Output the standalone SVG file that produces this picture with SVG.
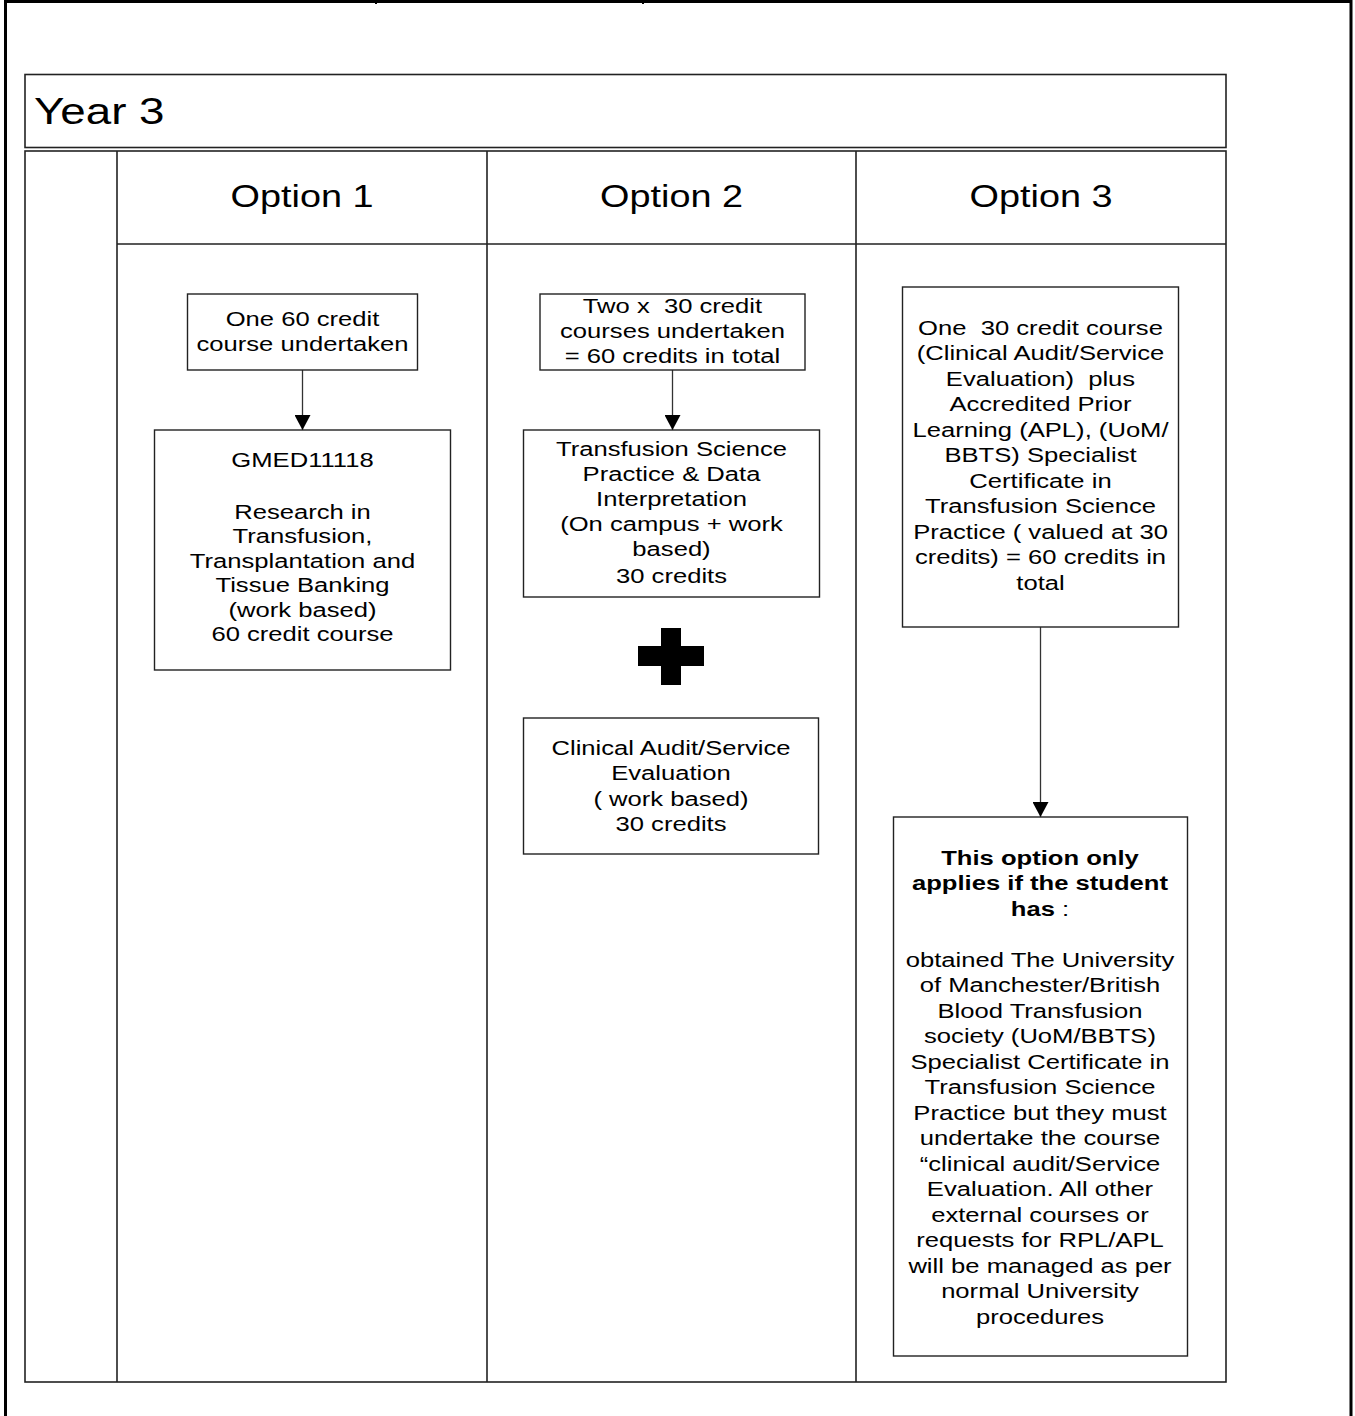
<svg xmlns="http://www.w3.org/2000/svg" width="1355" height="1416" viewBox="0 0 1355 1416">
<defs>
<style>
.frame{fill:none;stroke:#000;stroke-width:3}
.tbl{fill:none;stroke:#222;stroke-width:1.6}
.box{fill:#fff;stroke:#222;stroke-width:1.4}
.conn{fill:none;stroke:#333;stroke-width:1.3}
text{font-family:"Liberation Sans",Arial,sans-serif;fill:#000;text-anchor:middle}
.t{font-size:21px}
.b{font-weight:bold}
.opt{font-size:31px}
.yr{font-size:37.5px;text-anchor:start}
</style>
<marker id="ah" viewBox="0 0 15 16" markerWidth="15" markerHeight="16" refX="15" refY="8" orient="auto" markerUnits="userSpaceOnUse">
<path d="M0,0 L15,8 L0,16 z" fill="#000"/>
</marker>
</defs>
<rect width="1355" height="1416" fill="#fff"/>
<g id="frame">
<path class="frame" d="M5.5,1416 V1.5 H1351 V1416"/>
<path d="M376,0 V4 M643,0 V4" stroke="#000" stroke-width="2"/>
</g>
<g id="year3">
<rect class="tbl" x="25" y="74.5" width="1201" height="73"/>
<text class="yr" transform="translate(34 0) scale(1.22 1)" x="0" y="124">Year 3</text>
</g>
<g id="table">
<rect class="tbl" x="25" y="151" width="1201" height="1231"/>
<path class="tbl" d="M117,151 V1382 M487,151 V1382 M856,151 V1382 M117,244 H1226"/>
</g>
<g id="option1-header"><text class="opt" transform="translate(302 0) scale(1.22 1)" x="0" y="207">Option 1</text></g>
<g id="option2-header"><text class="opt" transform="translate(671.5 0) scale(1.22 1)" x="0" y="207">Option 2</text></g>
<g id="option3-header"><text class="opt" transform="translate(1041 0) scale(1.22 1)" x="0" y="207">Option 3</text></g>
<g id="connectors">
<line class="conn" x1="302.5" y1="370" x2="302.5" y2="430" marker-end="url(#ah)"/>
<line class="conn" x1="672.5" y1="370" x2="672.5" y2="430" marker-end="url(#ah)"/>
<line class="conn" x1="1040.5" y1="627" x2="1040.5" y2="817" marker-end="url(#ah)"/>
</g>
<g id="box-a">
<rect class="box" x="187.5" y="294" width="230" height="76"/>
<g transform="translate(302.5 0) scale(1.22 1)">
<text class="t" x="0" y="326">One 60 credit</text>
<text class="t" x="0" y="351">course undertaken</text>
</g>
</g>
<g id="box-b">
<rect class="box" x="154.5" y="430" width="296" height="240"/>
<g transform="translate(302.5 0) scale(1.22 1)">
<text class="t" x="0" y="467">GMED11118</text>
<text class="t" x="0" y="519">Research in</text>
<text class="t" x="0" y="543.5">Transfusion,</text>
<text class="t" x="0" y="568">Transplantation and</text>
<text class="t" x="0" y="592.5">Tissue Banking</text>
<text class="t" x="0" y="617">(work based)</text>
<text class="t" x="0" y="641.5">60 credit course</text>
</g>
</g>
<g id="box-c">
<rect class="box" x="540" y="294" width="265" height="76"/>
<g transform="translate(672.5 0) scale(1.22 1)">
<text class="t" x="0" y="313" xml:space="preserve">Two x  30 credit</text>
<text class="t" x="0" y="338">courses undertaken</text>
<text class="t" x="0" y="363">= 60 credits in total</text>
</g>
</g>
<g id="box-d">
<rect class="box" x="523.5" y="430" width="296" height="167"/>
<g transform="translate(671.5 0) scale(1.22 1)">
<text class="t" x="0" y="456">Transfusion Science</text>
<text class="t" x="0" y="481">Practice &amp; Data</text>
<text class="t" x="0" y="506">Interpretation</text>
<text class="t" x="0" y="531">(On campus + work</text>
<text class="t" x="0" y="556">based)</text>
<text class="t" x="0" y="583">30 credits</text>
</g>
</g>
<g id="plus">
<rect x="638" y="646" width="66" height="20" fill="#000"/>
<rect x="661" y="628" width="20" height="57" fill="#000"/>
</g>
<g id="box-e">
<rect class="box" x="523.5" y="718" width="295" height="136"/>
<g transform="translate(671 0) scale(1.22 1)">
<text class="t" x="0" y="755">Clinical Audit/Service</text>
<text class="t" x="0" y="780.5">Evaluation</text>
<text class="t" x="0" y="806">( work based)</text>
<text class="t" x="0" y="831.5">30 credits</text>
</g>
</g>
<g id="box-f">
<rect class="box" x="902.5" y="287" width="276" height="340"/>
<g transform="translate(1040.5 0) scale(1.22 1)">
<text class="t" x="0" y="335" xml:space="preserve">One  30 credit course</text>
<text class="t" x="0" y="360.5">(Clinical Audit/Service</text>
<text class="t" x="0" y="386" xml:space="preserve">Evaluation)  plus</text>
<text class="t" x="0" y="411.5">Accredited Prior</text>
<text class="t" x="0" y="437">Learning (APL), (UoM/</text>
<text class="t" x="0" y="462.5">BBTS) Specialist</text>
<text class="t" x="0" y="488">Certificate in</text>
<text class="t" x="0" y="513.5">Transfusion Science</text>
<text class="t" x="0" y="539">Practice ( valued at 30</text>
<text class="t" x="0" y="564.5">credits) = 60 credits in</text>
<text class="t" x="0" y="590">total</text>
</g>
</g>
<g id="box-g">
<rect class="box" x="893.5" y="817" width="294" height="539"/>
<g transform="translate(1040 0) scale(1.22 1)">
<text class="t b" x="0" y="865">This option only</text>
<text class="t b" x="0" y="890.5">applies if the student</text>
<text class="t" x="0" y="916"><tspan class="b">has</tspan> :</text>
<text class="t" x="0" y="967">obtained The University</text>
<text class="t" x="0" y="992.5">of Manchester/British</text>
<text class="t" x="0" y="1018">Blood Transfusion</text>
<text class="t" x="0" y="1043.5">society (UoM/BBTS)</text>
<text class="t" x="0" y="1069">Specialist Certificate in</text>
<text class="t" x="0" y="1094.5">Transfusion Science</text>
<text class="t" x="0" y="1120">Practice but they must</text>
<text class="t" x="0" y="1145.5">undertake the course</text>
<text class="t" x="0" y="1171">“clinical audit/Service</text>
<text class="t" x="0" y="1196.5">Evaluation. All other</text>
<text class="t" x="0" y="1222">external courses or</text>
<text class="t" x="0" y="1247.5">requests for RPL/APL</text>
<text class="t" x="0" y="1273">will be managed as per</text>
<text class="t" x="0" y="1298.5">normal University</text>
<text class="t" x="0" y="1324">procedures</text>
</g>
</g>
</svg>
